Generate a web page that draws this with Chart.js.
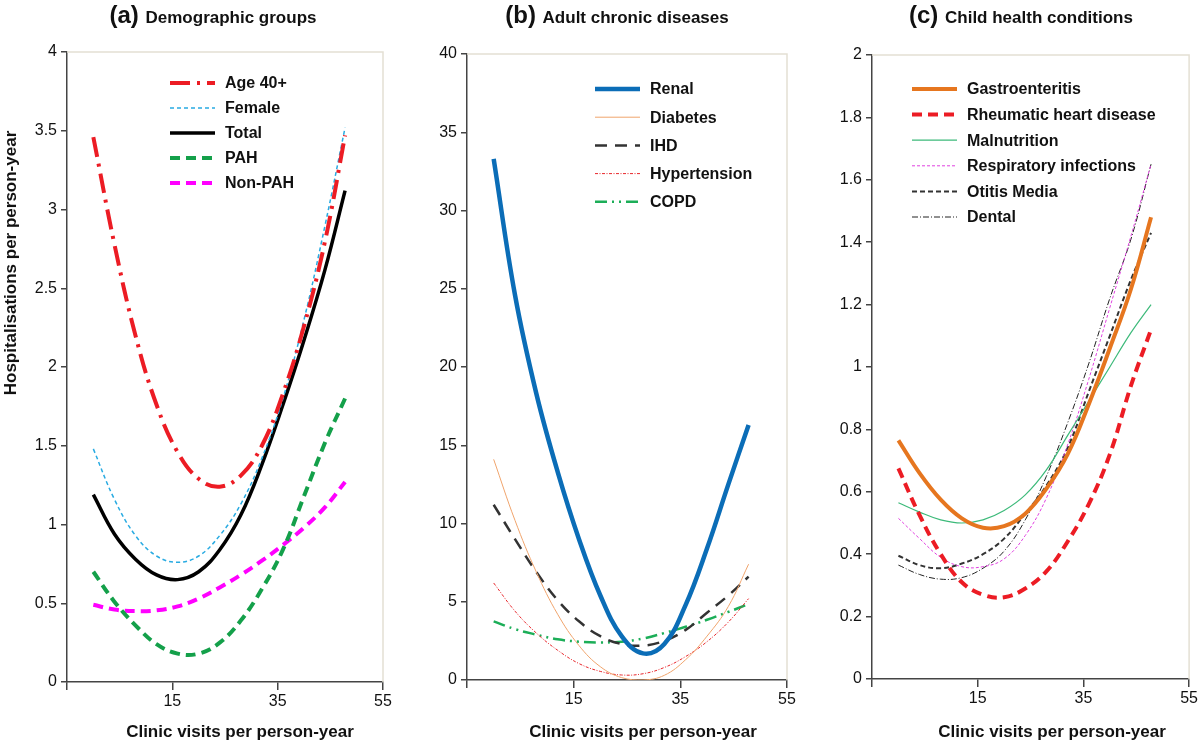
<!DOCTYPE html>
<html>
<head>
<meta charset="utf-8">
<title>Clinic visits and hospitalisations</title>
<script src="https://cdn.jsdelivr.net/npm/chart.js@4.4.1/dist/chart.umd.min.js"></script>
<style>
  body { margin: 0; background: #fff; font-family: "Liberation Sans", Arial, sans-serif; color: #111; }
  #wrap { position: relative; width: 1200px; height: 744px; overflow: hidden; }
  .panel { position: absolute; top: 0; width: 400px; height: 744px; }
  .ptitle { position: absolute; top: 0; width: 320px; height: 30px; line-height: 30px; text-align: center;
            font-weight: bold; font-size: 17px; white-space: nowrap; }
  .ptitle b { font-size: 24px; }
  .xtitle { position: absolute; top: 722px; width: 300px; height: 20px; line-height: 20px; text-align: center;
            font-weight: bold; font-size: 17px; white-space: nowrap; }
  .ytitle { position: absolute; left: -139px; top: 253px; width: 300px; height: 20px; line-height: 20px;
            text-align: center; font-weight: bold; font-size: 17px; white-space: nowrap; transform: rotate(-90deg); }
</style>
</head>
<body>
<div id="wrap">
  <div class="panel" style="left:0"><canvas id="chartA" width="400" height="744"></canvas></div>
  <div class="panel" style="left:400px"><canvas id="chartB" width="400" height="744"></canvas></div>
  <div class="panel" style="left:800px"><canvas id="chartC" width="400" height="744"></canvas></div>

  <div class="ptitle" style="left:53px"><b>(a) </b>Demographic groups</div>
  <div class="ptitle" style="left:457px"><b>(b) </b>Adult chronic diseases</div>
  <div class="ptitle" style="left:861px"><b>(c) </b>Child health conditions</div>

  <div class="xtitle" style="left:90px">Clinic visits per person-year</div>
  <div class="xtitle" style="left:493px">Clinic visits per person-year</div>
  <div class="xtitle" style="left:902px">Clinic visits per person-year</div>

  <div class="ytitle">Hospitalisations per person-year</div>
</div>

<script>
// clinic visits per person-year where each curve was read
const visits = [0, 4, 8, 12, 16, 20, 24, 28, 32, 36, 40, 44, 47.8];

// (a) demographic groups
const age40 = [3.46, 2.78, 2.20, 1.76, 1.46, 1.29, 1.24, 1.31, 1.50, 1.83, 2.26, 2.80, 3.47];
const female = [1.48, 1.16, 0.93, 0.80, 0.76, 0.80, 0.93, 1.13, 1.42, 1.80, 2.30, 2.90, 3.52];
const total = [1.19, 0.94, 0.78, 0.68, 0.65, 0.70, 0.84, 1.06, 1.38, 1.76, 2.17, 2.62, 3.12];
const pah = [0.70, 0.51, 0.36, 0.24, 0.18, 0.18, 0.25, 0.39, 0.59, 0.84, 1.18, 1.52, 1.80];
const nonPah = [0.49, 0.46, 0.45, 0.455, 0.48, 0.53, 0.60, 0.68, 0.77, 0.87, 0.98, 1.11, 1.27];

// (b) adult chronic diseases
const renal = [33.3, 24.6, 18.3, 13.3, 9.0, 5.4, 2.8, 1.7, 2.3, 4.8, 8.4, 12.5, 16.3];
const diabetes = [14.1, 10.2, 6.9, 4.2, 2.2, 0.85, 0.15, 0.0, 0.3, 1.3, 2.8, 4.7, 7.4];
const ihd = [11.2, 9.0, 6.9, 5.1, 3.75, 2.8, 2.3, 2.2, 2.5, 3.2, 4.3, 5.4, 6.6];
const hypertension = [6.2, 4.4, 3.0, 1.9, 1.05, 0.55, 0.32, 0.4, 0.8, 1.5, 2.45, 3.7, 5.2];
const copd = [3.75, 3.25, 2.9, 2.6, 2.45, 2.4, 2.45, 2.65, 3.0, 3.4, 3.85, 4.35, 4.85];

// (c) child health conditions
const gastro = [0.765, 0.66, 0.575, 0.515, 0.485, 0.49, 0.53, 0.61, 0.72, 0.88, 1.06, 1.25, 1.48];
const rhd = [0.675, 0.525, 0.40, 0.31, 0.27, 0.262, 0.29, 0.345, 0.44, 0.56, 0.72, 0.94, 1.12];
const malnutrition = [0.565, 0.535, 0.51, 0.50, 0.51, 0.54, 0.59, 0.67, 0.78, 0.89, 1.00, 1.11, 1.20];
const respiratory = [0.515, 0.45, 0.39, 0.36, 0.36, 0.385, 0.46, 0.58, 0.75, 0.96, 1.19, 1.42, 1.65];
const otitis = [0.395, 0.365, 0.355, 0.37, 0.40, 0.45, 0.53, 0.62, 0.74, 0.92, 1.10, 1.28, 1.43];
const dental = [0.365, 0.335, 0.32, 0.325, 0.355, 0.41, 0.51, 0.65, 0.82, 1.01, 1.22, 1.41, 1.65];

// x axis ticks: -5 is the unlabelled origin
const xTicks = [-5, 15, 35, 55];

const FONT = '"Liberation Sans", Arial, sans-serif';

const toPoints = (ys) => visits.map((x, i) => ({ x: x, y: ys[i] }));

// legend drawn inside the plot, using each dataset's own line style
const insideLegend = {
    id: 'insideLegend',
    afterDatasetsDraw(chart, args, opts) {
        const { ctx, chartArea } = chart;
        ctx.save();
        ctx.font = 'bold 16px ' + FONT;
        ctx.textBaseline = 'middle';
        ctx.fillStyle = '#111';
        chart.data.datasets.forEach((ds, i) => {
            const y = chartArea.top + opts.top + i * opts.rowGap;
            const x0 = chartArea.left + opts.left;
            ctx.beginPath();
            ctx.setLineDash(ds.borderDash || []);
            ctx.lineWidth = ds.borderWidth;
            ctx.strokeStyle = ds.borderColor;
            ctx.moveTo(x0, y);
            ctx.lineTo(x0 + opts.lineLength, y);
            ctx.stroke();
            ctx.setLineDash([]);
            ctx.fillText(ds.label, x0 + opts.lineLength + 10, y + 1);
        });
        ctx.restore();
    }
};

// faint top and right edges of the plot frame
const frameEdges = {
    id: 'frameEdges',
    beforeDatasetsDraw(chart) {
        const { ctx, chartArea } = chart;
        ctx.save();
        ctx.strokeStyle = '#e4e0d4';
        ctx.lineWidth = 1.5;
        ctx.beginPath();
        ctx.moveTo(chartArea.left, chartArea.top);
        ctx.lineTo(chartArea.right, chartArea.top);
        ctx.lineTo(chartArea.right, chartArea.bottom);
        ctx.stroke();
        ctx.restore();
    }
};

const makeChart = (id, area, yMax, yStep, datasets, legend) => {
    const ctx = document.getElementById(id).getContext('2d');
    return new Chart(ctx, {
        type: 'line',
        data: {
            datasets: datasets.map(d => Object.assign({
                pointRadius: 0,
                tension: 0.4,
                fill: false
            }, d))
        },
        plugins: [frameEdges, insideLegend],
        options: {
            responsive: false,
            animation: false,
            events: [],
            layout: {
                padding: { top: area.top, right: 400 - area.right, bottom: 0, left: 0 }
            },
            plugins: {
                legend: { display: false },
                title: { display: false },
                tooltip: { enabled: false },
                insideLegend: legend
            },
            scales: {
                x: {
                    type: 'linear',
                    min: xTicks[0],
                    max: xTicks[xTicks.length - 1],
                    afterFit: (scale) => { scale.height = 744 - area.bottom; },
                    afterBuildTicks: (scale) => { scale.ticks = xTicks.map(v => ({ value: v })); },
                    ticks: {
                        color: '#111',
                        font: { family: FONT, size: 16 },
                        padding: 2,
                        maxRotation: 0,
                        autoSkip: false,
                        callback: (value) => (value === xTicks[0] ? '' : value)
                    },
                    grid: { drawOnChartArea: false, color: '#444', tickLength: 8, lineWidth: 1.5 },
                    border: { color: '#444', width: 1.5 }
                },
                y: {
                    min: 0,
                    max: yMax,
                    afterFit: (scale) => { scale.width = area.left; },
                    ticks: {
                        stepSize: yStep,
                        color: '#111',
                        font: { family: FONT, size: 16 },
                        padding: 4,
                        // plain numbers: 4, 3.5, 3 ... not 4.0, 3.0
                        callback: (value) => String(Number(value.toFixed(2)))
                    },
                    grid: { drawOnChartArea: false, color: '#444', tickLength: 6, lineWidth: 1.5 },
                    border: { color: '#444', width: 1.5 }
                }
            }
        }
    });
};

document.addEventListener('DOMContentLoaded', function() {
    // (a) Demographic groups
    makeChart('chartA', { left: 67, right: 383, top: 52, bottom: 682 }, 4, 0.5, [
        { label: 'Age 40+', data: toPoints(age40), borderColor: '#ec1c24', borderWidth: 4, borderDash: [20, 7, 3, 7] },
        { label: 'Female', data: toPoints(female), borderColor: '#29abe2', borderWidth: 1.5, borderDash: [4, 3] },
        { label: 'Total', data: toPoints(total), borderColor: '#000000', borderWidth: 3.5 },
        { label: 'PAH', data: toPoints(pah), borderColor: '#14a04a', borderWidth: 4, borderDash: [10, 6] },
        { label: 'Non-PAH', data: toPoints(nonPah), borderColor: '#ff00ff', borderWidth: 4, borderDash: [10, 6] }
    ], { left: 103, top: 31, rowGap: 25, lineLength: 45 });

    // (b) Adult chronic diseases
    makeChart('chartB', { left: 67, right: 387, top: 54, bottom: 680 }, 40, 5, [
        { label: 'Renal', data: toPoints(renal), borderColor: '#0b6db7', borderWidth: 4.5 },
        { label: 'Diabetes', data: toPoints(diabetes), borderColor: '#f0a46c', borderWidth: 1 },
        { label: 'IHD', data: toPoints(ihd), borderColor: '#333333', borderWidth: 2.5, borderDash: [12, 8] },
        { label: 'Hypertension', data: toPoints(hypertension), borderColor: '#e8262b', borderWidth: 1, borderDash: [3, 1.5, 1, 1.5] },
        { label: 'COPD', data: toPoints(copd), borderColor: '#1cae58', borderWidth: 2.5, borderDash: [12, 5, 2, 5, 2, 5] }
    ], { left: 128, top: 35, rowGap: 28.2, lineLength: 45 });

    // (c) Child health conditions
    makeChart('chartC', { left: 72, right: 391, top: 55, bottom: 679 }, 2, 0.2, [
        { label: 'Gastroenteritis', data: toPoints(gastro), borderColor: '#e6761f', borderWidth: 4 },
        { label: 'Rheumatic heart disease', data: toPoints(rhd), borderColor: '#ec1c24', borderWidth: 4, borderDash: [10, 6] },
        { label: 'Malnutrition', data: toPoints(malnutrition), borderColor: '#3dba7a', borderWidth: 1.2 },
        { label: 'Respiratory infections', data: toPoints(respiratory), borderColor: '#e040e0', borderWidth: 1, borderDash: [3, 2] },
        { label: 'Otitis Media', data: toPoints(otitis), borderColor: '#333333', borderWidth: 2, borderDash: [5, 3] },
        { label: 'Dental', data: toPoints(dental), borderColor: '#222222', borderWidth: 1, borderDash: [6, 2, 1, 2] }
    ], { left: 40, top: 34, rowGap: 25.6, lineLength: 45 });
});
</script>
</body>
</html>
